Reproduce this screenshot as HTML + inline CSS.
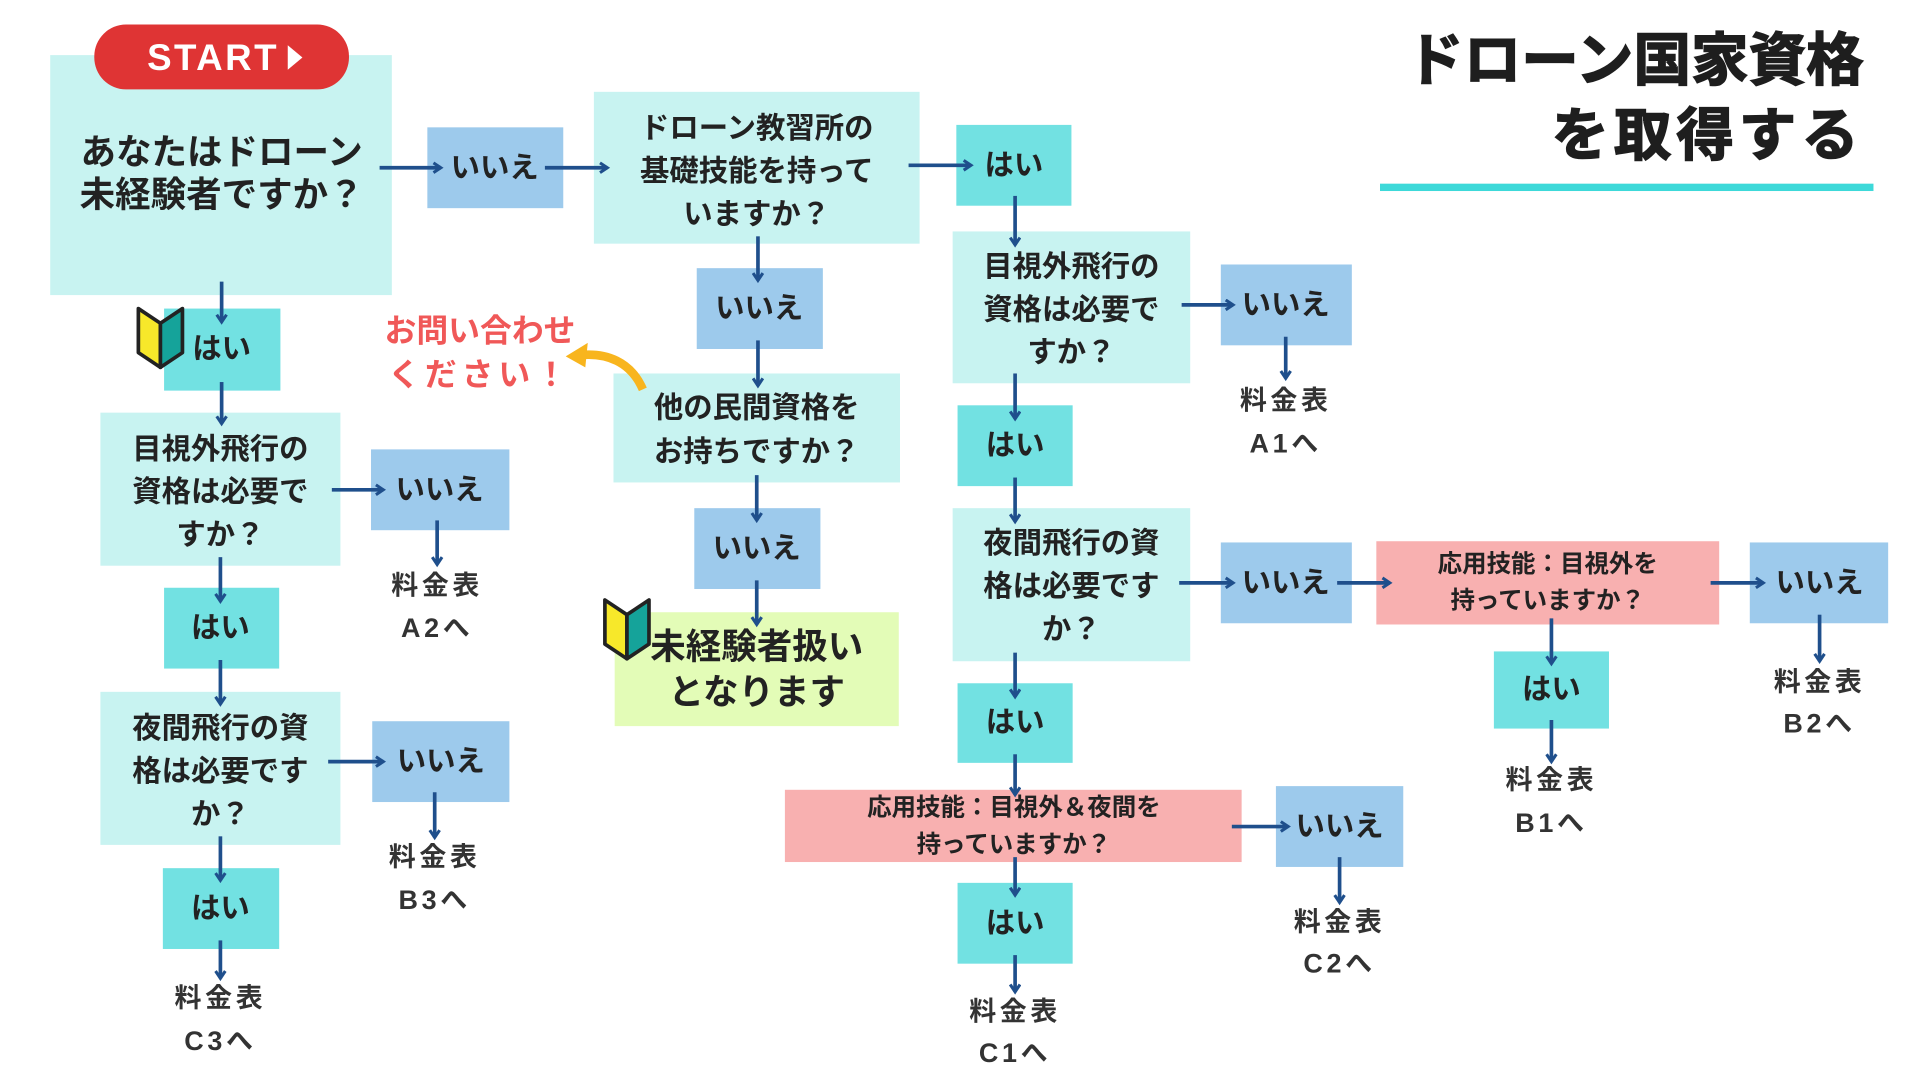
<!DOCTYPE html>
<html><head><meta charset="utf-8"><style>
html,body{margin:0;padding:0;background:#fff;width:1920px;height:1080px;overflow:hidden}
svg{display:block}
text{font-family:"Liberation Sans","Noto Sans CJK JP",sans-serif;font-weight:700;fill:#222;text-anchor:middle;dominant-baseline:central}
.a{stroke:#1f4f8c;stroke-width:3;fill:none;marker-end:url(#ah)}
.q{fill:#c8f3f1}.n{fill:#9dcaec}.y{fill:#72e1e2}.p{fill:#f8b0b0}
.s24{font-size:24px}.s22{font-size:22px}.s20{font-size:20px}.s28{font-size:29px}
.f{font-size:22px;letter-spacing:3px;fill:#333}
</style></head><body>
<svg width="1920" height="1080" viewBox="0 0 1568 882" xmlns="http://www.w3.org/2000/svg">
<defs><marker id="ah" markerWidth="10" markerHeight="10" refX="7" refY="5" orient="auto" markerUnits="userSpaceOnUse"><path d="M1,1 L7,5 L1,9" stroke="#1f4f8c" stroke-width="2.5" fill="none"/></marker>
<g id="bm"><path d="M0,4 L18,16 L18,52 L0,40 Z" fill="#f7e82a" stroke="#222" stroke-width="3" stroke-linejoin="round"/><path d="M36,4 L18,16 L18,52 L36,40 Z" fill="#15a39a" stroke="#222" stroke-width="3" stroke-linejoin="round"/></g></defs>

<!-- Title -->
<text x="1522" y="50" style="font-size:47px;text-anchor:end;fill:#1e1e1e;stroke:#1e1e1e;stroke-width:1.2">ドローン国家資格</text>
<text x="1522" y="111" style="font-size:47px;text-anchor:end;fill:#1e1e1e;letter-spacing:4px;stroke:#1e1e1e;stroke-width:1.2">を取得する</text>
<rect x="1127" y="150" width="403" height="6" fill="#3dd9d9"/>

<!-- Q1 -->
<rect class="q" x="41" y="45" width="279" height="196"/>
<rect x="77" y="20" width="208" height="53" rx="26" fill="#df3434"/>
<text x="174" y="47" style="font-size:30px;fill:#fff;letter-spacing:2px">START</text>
<path d="M235,37 L247,47 L235,57Z" fill="#fff"/>
<text class="s28" x="181" y="124">あなたはドローン</text>
<text class="s28" x="181" y="159">未経験者ですか？</text>
<rect class="n" x="349" y="104" width="111" height="66"/><text class="s24" x="404" y="137">いいえ</text>

<!-- Q2 -->
<rect class="q" x="485" y="75" width="266" height="124"/>
<text class="s24" x="618" y="105">ドローン教習所の</text>
<text class="s24" x="618" y="140">基礎技能を持って</text>
<text class="s24" x="618" y="175">いますか？</text>
<rect class="y" x="781" y="102" width="94" height="66"/><text class="s24" x="828" y="135">はい</text>

<!-- Q3 right -->
<rect class="q" x="778" y="189" width="194" height="124"/>
<text class="s24" x="875" y="218">目視外飛行の</text>
<text class="s24" x="875" y="253">資格は必要で</text>
<text class="s24" x="875" y="288">すか？</text>
<rect class="n" x="997" y="216" width="107" height="66"/><text class="s24" x="1050" y="249">いいえ</text>
<text class="f" x="1050" y="327">料金表</text><text class="f" x="1050" y="362">A1へ</text>
<rect class="y" x="782" y="331" width="94" height="66"/><text class="s24" x="829" y="364">はい</text>

<!-- Q4 right -->
<rect class="q" x="778" y="415" width="194" height="125"/>
<text class="s24" x="875" y="444">夜間飛行の資</text>
<text class="s24" x="875" y="479">格は必要です</text>
<text class="s24" x="875" y="514">か？</text>
<rect class="n" x="997" y="443" width="107" height="66"/><text class="s24" x="1050" y="476">いいえ</text>
<rect class="p" x="1124" y="442" width="280" height="68"/>
<text class="s20" x="1264" y="461">応用技能：目視外を</text>
<text class="s20" x="1264" y="491">持っていますか？</text>
<rect class="n" x="1429" y="443" width="113" height="66"/><text class="s24" x="1486" y="476">いいえ</text>
<text class="f" x="1486" y="557">料金表</text><text class="f" x="1486" y="591">B2へ</text>
<rect class="y" x="1220" y="532" width="94" height="63"/><text class="s24" x="1267" y="563">はい</text>
<text class="f" x="1267" y="637">料金表</text><text class="f" x="1267" y="672">B1へ</text>
<rect class="y" x="782" y="558" width="94" height="65"/><text class="s24" x="829" y="590">はい</text>
<rect class="p" x="641" y="645" width="373" height="59"/>
<text class="s20" x="828" y="660">応用技能：目視外＆夜間を</text>
<text class="s20" x="828" y="690">持っていますか？</text>
<rect class="n" x="1042" y="642" width="104" height="66"/><text class="s24" x="1094" y="675">いいえ</text>
<text class="f" x="1094" y="753">料金表</text><text class="f" x="1094" y="787">C2へ</text>
<rect class="y" x="782" y="721" width="94" height="66"/><text class="s24" x="829" y="754">はい</text>
<text class="f" x="829" y="826">料金表</text><text class="f" x="829" y="860">C1へ</text>

<!-- Middle column -->
<rect class="n" x="569" y="219" width="103" height="66"/><text class="s24" x="620" y="252">いいえ</text>
<rect class="q" x="501" y="305" width="234" height="89"/>
<text class="s24" x="618" y="333">他の民間資格を</text>
<text class="s24" x="618" y="369">お持ちですか？</text>
<rect class="n" x="567" y="415" width="103" height="66"/><text class="s24" x="618" y="448">いいえ</text>
<rect x="502" y="500" width="232" height="93" fill="#e3fcb7"/>
<text class="s28" x="618" y="528">未経験者扱い</text>
<text class="s28" x="618" y="565">となります</text>
<use href="#bm" x="494" y="486"/>
<text x="392" y="270" style="font-size:26px;fill:#f05858">お問い合わせ</text>
<text x="392" y="306" style="font-size:26px;fill:#f05858;letter-spacing:4px">ください！</text>
<path d="M525,318 C515,295 495,288 474,290" stroke="#f8b51e" stroke-width="7" fill="none"/>
<path d="M462,291 L480,280 L478,300Z" fill="#f8b51e"/>

<!-- Left column -->
<rect class="y" x="134" y="252" width="95" height="67"/><text class="s24" x="181" y="285">はい</text>
<use href="#bm" x="113" y="248"/>
<rect class="q" x="82" y="337" width="196" height="125"/>
<text class="s24" x="180" y="367">目視外飛行の</text>
<text class="s24" x="180" y="402">資格は必要で</text>
<text class="s24" x="180" y="437">すか？</text>
<rect class="n" x="303" y="367" width="113" height="66"/><text class="s24" x="359" y="400">いいえ</text>
<text class="f" x="357" y="478">料金表</text><text class="f" x="357" y="513">A2へ</text>
<rect class="y" x="134" y="480" width="94" height="66"/><text class="s24" x="180" y="513">はい</text>
<rect class="q" x="82" y="565" width="196" height="125"/>
<text class="s24" x="180" y="595">夜間飛行の資</text>
<text class="s24" x="180" y="630">格は必要です</text>
<text class="s24" x="180" y="665">か？</text>
<rect class="n" x="304" y="589" width="112" height="66"/><text class="s24" x="360" y="622">いいえ</text>
<text class="f" x="355" y="700">料金表</text><text class="f" x="355" y="735">B3へ</text>
<rect class="y" x="133" y="709" width="95" height="66"/><text class="s24" x="180" y="742">はい</text>
<text class="f" x="180" y="815">料金表</text><text class="f" x="180" y="850">C3へ</text>

<!-- Arrows on top -->
<path class="a" d="M310,137 H360"/>
<path class="a" d="M445,137 H496"/>
<path class="a" d="M742,135 H793"/>
<path class="a" d="M829,160 V200"/>
<path class="a" d="M965,249 H1007"/>
<path class="a" d="M1050,275 V309"/>
<path class="a" d="M829,305 V342"/>
<path class="a" d="M829,390 V426"/>
<path class="a" d="M963,476 H1007"/>
<path class="a" d="M1092,476 H1135"/>
<path class="a" d="M1397,476 H1440"/>
<path class="a" d="M1486,502 V540"/>
<path class="a" d="M1267,505 V542"/>
<path class="a" d="M1267,588 V622"/>
<path class="a" d="M829,533 V569"/>
<path class="a" d="M829,616 V649"/>
<path class="a" d="M1006,675 H1052"/>
<path class="a" d="M1094,700 V737"/>
<path class="a" d="M829,700 V731"/>
<path class="a" d="M829,780 V810"/>
<path class="a" d="M619,193 V229"/>
<path class="a" d="M619,278 V315"/>
<path class="a" d="M618,388 V425"/>
<path class="a" d="M618,474 V510"/>
<path class="a" d="M181,230 V263"/>
<path class="a" d="M181,312 V346"/>
<path class="a" d="M271,400 H313"/>
<path class="a" d="M357,425 V461"/>
<path class="a" d="M180,455 V491"/>
<path class="a" d="M180,539 V575"/>
<path class="a" d="M268,622 H313"/>
<path class="a" d="M355,647 V684"/>
<path class="a" d="M180,683 V719"/>
<path class="a" d="M180,768 V799"/>
</svg>
</body></html>
